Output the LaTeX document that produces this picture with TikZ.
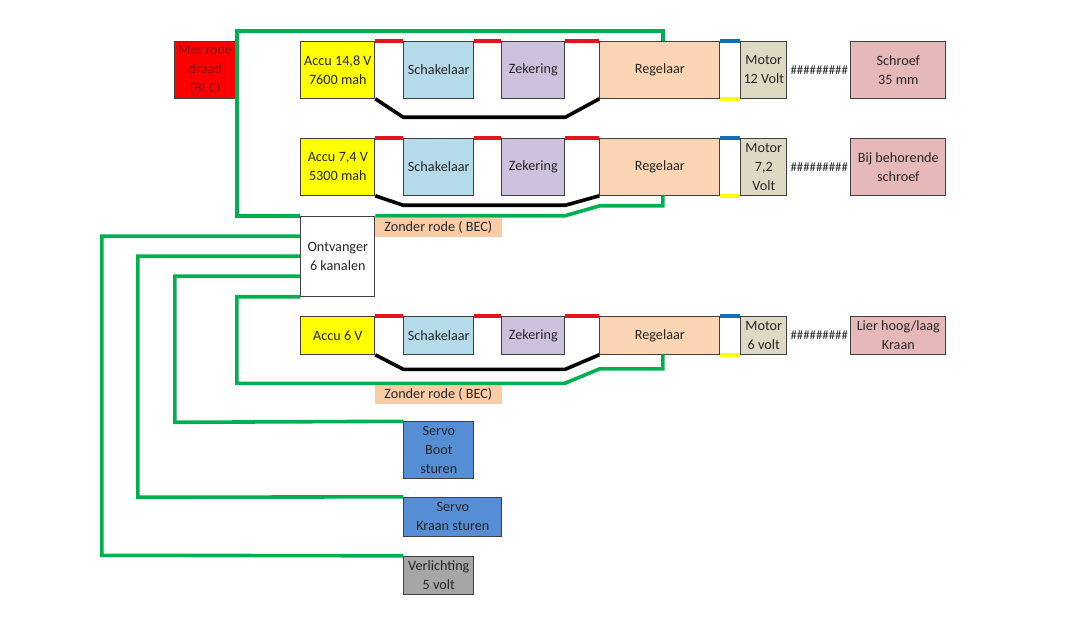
\documentclass[tikz,border=0pt]{standalone}
\usepackage{fontspec}
\setmainfont{Carlito}
\definecolor{accuyellow}{HTML}{FFFF00}
\definecolor{switchblue}{HTML}{B5DBEB}
\definecolor{fusepurple}{HTML}{CDC1DE}
\definecolor{regelaarorange}{HTML}{FBD4B4}
\definecolor{zonderorange}{HTML}{F9CCA6}
\definecolor{motortan}{HTML}{DDD9C3}
\definecolor{schroefpink}{HTML}{E6B9B8}
\definecolor{servoblue}{HTML}{558ED5}
\definecolor{lightgrey}{HTML}{A6A6A6}
\definecolor{wiregreen}{HTML}{00AF50}
\definecolor{wirered}{HTML}{E3141E}
\definecolor{wireblue}{HTML}{0F70B7}
\definecolor{edgegrey}{HTML}{404040}
\definecolor{textdark}{HTML}{262626}
\definecolor{textred}{HTML}{8E0E0E}
\tikzset{
    blok/.style={
        draw=edgegrey,
        line width=1pt,
        inner sep=0pt,
        align=center,
        text=textdark,
        font=\fontsize{14.2}{19}\selectfont
    },
    groen/.style={draw=wiregreen, line width=3.6pt, line join=miter},
    zwart/.style={draw=black, line width=3.6pt, line join=round},
    plus/.style={draw=wirered, line width=4pt},
    blauw/.style={draw=wireblue, line width=4pt},
    geel/.style={draw=accuyellow, line width=4pt},
    hekjes/.style={inner sep=0pt, text=textdark, font=\fontsize{12.8}{19}\selectfont}
}
\begin{document}
\begin{tikzpicture}[x=1pt,y=-1pt]
            \useasboundingbox (0.2,-0.3) rectangle (1079.2,643.7);

            % bovenste rij
            \node[
                blok,
                fill=red,
                text=textred,
                minimum width=61pt,
                minimum height=57pt,
                name=metrode
            ] at (205.5,69.5) {Met rode\\draad\\(BEC)};
            \node[
                blok,
                fill=accuyellow,
                minimum width=74pt,
                minimum height=57pt,
                name=accuA
            ] at (338,69.5) {Accu 14,8 V\\7600 mah};
            \node[
                blok,
                fill=switchblue,
                minimum width=70pt,
                minimum height=57pt,
                name=schakelaarA
            ] at (439,69.5) {Schakelaar};
            \node[
                blok,
                fill=fusepurple,
                minimum width=63pt,
                minimum height=57pt,
                name=zekeringA
            ] at (533.5,69.5) {Zekering};
            \node[
                blok,
                fill=regelaarorange,
                minimum width=120pt,
                minimum height=57pt,
                name=regelaarA
            ] at (660,69.5) {Regelaar};
            \node[
                blok,
                fill=motortan,
                minimum width=46pt,
                minimum height=57pt,
                name=motorA
            ] at (764,69.5) {Motor\\12 Volt};
            \node[
                blok,
                fill=schroefpink,
                minimum width=95pt,
                minimum height=57pt,
                name=schroefA
            ] at (898.5,69.5) {Schroef\\35 mm};
            \node[hekjes, name=hekjesA] at (819.5,70) {\#\#\#\#\#\#\#\#\#};

            % tweede rij
            \node[
                blok,
                fill=accuyellow,
                minimum width=74pt,
                minimum height=57pt,
                name=accuB
            ] at (338,166.5) {Accu 7,4 V\\5300 mah};
            \node[
                blok,
                fill=switchblue,
                minimum width=70pt,
                minimum height=57pt,
                name=schakelaarB
            ] at (439,166.5) {Schakelaar};
            \node[
                blok,
                fill=fusepurple,
                minimum width=63pt,
                minimum height=57pt,
                name=zekeringB
            ] at (533.5,166.5) {Zekering};
            \node[
                blok,
                fill=regelaarorange,
                minimum width=120pt,
                minimum height=57pt,
                name=regelaarB
            ] at (660,166.5) {Regelaar};
            \node[
                blok,
                fill=motortan,
                minimum width=46pt,
                minimum height=57pt,
                name=motorB
            ] at (764,166.5) {Motor\\7,2\\Volt};
            \node[
                blok,
                fill=schroefpink,
                minimum width=95pt,
                minimum height=57pt,
                name=schroefB
            ] at (898.5,166.5) {Bij behorende\\schroef};
            \node[hekjes, name=hekjesB] at (819.5,166.5) {\#\#\#\#\#\#\#\#\#};

            % ontvanger
            \node[
                blok,
                fill=white,
                minimum width=74pt,
                minimum height=80pt,
                name=ontvanger
            ] at (338,256) {Ontvanger\\6 kanalen};
            \node[
                blok,
                draw=none,
                fill=zonderorange,
                minimum width=127pt,
                minimum height=19pt,
                name=zonderB
            ] at (438.5,227) {Zonder rode ( BEC)};

            % derde rij
            \node[
                blok,
                fill=accuyellow,
                minimum width=74pt,
                minimum height=38pt,
                name=accuC
            ] at (338,335) {Accu 6 V};
            \node[
                blok,
                fill=switchblue,
                minimum width=70pt,
                minimum height=38pt,
                name=schakelaarC
            ] at (439,335) {Schakelaar};
            \node[
                blok,
                fill=fusepurple,
                minimum width=63pt,
                minimum height=38pt,
                name=zekeringC
            ] at (533.5,335) {Zekering};
            \node[
                blok,
                fill=regelaarorange,
                minimum width=120pt,
                minimum height=38pt,
                name=regelaarC
            ] at (660,335) {Regelaar};
            \node[
                blok,
                fill=motortan,
                minimum width=46pt,
                minimum height=38pt,
                name=motorC
            ] at (764,335) {Motor\\6 volt};
            \node[
                blok,
                fill=schroefpink,
                minimum width=95pt,
                minimum height=38pt,
                name=lier
            ] at (898.5,335) {Lier hoog/laag\\Kraan};
            \node[hekjes, name=hekjesC] at (819.5,335) {\#\#\#\#\#\#\#\#\#};
            \node[
                blok,
                draw=none,
                fill=zonderorange,
                minimum width=127pt,
                minimum height=19pt,
                name=zonderC
            ] at (438.5,394) {Zonder rode ( BEC)};

            % servo's en verlichting
            \node[
                blok,
                fill=servoblue,
                minimum width=70pt,
                minimum height=57pt,
                name=servoboot
            ] at (439,450) {Servo\\Boot\\sturen};
            \node[
                blok,
                fill=servoblue,
                minimum width=98pt,
                minimum height=39pt,
                name=servokraan
            ] at (453,516.5) {Servo\\Kraan sturen};
            \node[
                blok,
                fill=lightgrey,
                minimum width=70pt,
                minimum height=38pt,
                name=verlichting
            ] at (439,575) {Verlichting\\5 volt};

            \coordinate (topleft) at (237,31);
            \coordinate (topright) at (663,31);
            \coordinate (leftB) at (237,215.5);
            \coordinate (bendB1) at (565,215.5);
            \coordinate (bendB2) at (600,205.5);
            \coordinate (bendB3) at (663,205.5);
            \coordinate (bendC0) at (237,383);
            \coordinate (bendC1) at (565,383);
            \coordinate (bendC2) at (600,368.5);
            \coordinate (bendC3) at (663,368.5);
            \coordinate (regelBtop) at (663,195);
            \coordinate (regelCtop) at (663,354);

            % groene draden
            \draw[groen] (ontvanger.north west) -- (leftB) -- (topleft) -- (topright) -- (regelaarA.north -| topright);
            \draw[groen] (ontvanger.north east |- leftB) -- (bendB1) -- (bendB2) -- (bendB3) -- (regelBtop);
            \draw[groen] (ontvanger.west |- 0,236) -- (102,236) -- (102,555) -- (verlichting.north west);
            \draw[groen] (ontvanger.west |- 0,256) -- (138,256) -- (138,497) -- (servokraan.north west);
            \draw[groen] (ontvanger.west |- 0,276) -- (175,276) -- (175,422) -- (servoboot.north west);
            \draw[groen] (ontvanger.south west) -- (bendC0 |- ontvanger.south) -- (bendC0) -- (bendC1) -- (bendC2) -- (bendC3) -- (regelCtop);

            % plus draden
            \draw[plus] (accuA.north east) -- (schakelaarA.north west);
            \draw[plus] (schakelaarA.north east) -- (zekeringA.north west);
            \draw[plus] (zekeringA.north east) -- (regelaarA.north west);
            \draw[plus] (accuB.north east) -- (schakelaarB.north west);
            \draw[plus] (schakelaarB.north east) -- (zekeringB.north west);
            \draw[plus] (zekeringB.north east) -- (regelaarB.north west);
            \draw[plus] (accuC.north east) -- (schakelaarC.north west);
            \draw[plus] (schakelaarC.north east) -- (zekeringC.north west);
            \draw[plus] (zekeringC.north east) -- (regelaarC.north west);

            % min draden
            \draw[zwart] (accuA.south east) -- (schakelaarA.south west |- 0,117) -- (zekeringA.south east |- 0,117) -- (regelaarA.south west);
            \draw[zwart] (accuB.south east) -- (schakelaarB.south west |- 0,205) -- (zekeringB.south east |- 0,205) -- (regelaarB.south west);
            \draw[zwart] (accuC.south east) -- (schakelaarC.south west |- 0,369) -- (zekeringC.south east |- 0,369) -- (regelaarC.south west);

            % regelaar naar motor
            \draw[blauw] (regelaarA.north east) -- (motorA.north west);
            \draw[geel] (regelaarA.south east) -- (motorA.south west);
            \draw[blauw] (regelaarB.north east) -- (motorB.north west);
            \draw[geel] (regelaarB.south east) -- (motorB.south west);
            \draw[blauw] (regelaarC.north east) -- (motorC.north west);
            \draw[geel] (regelaarC.south east) -- (motorC.south west);
        \end{tikzpicture}
\end{document}
